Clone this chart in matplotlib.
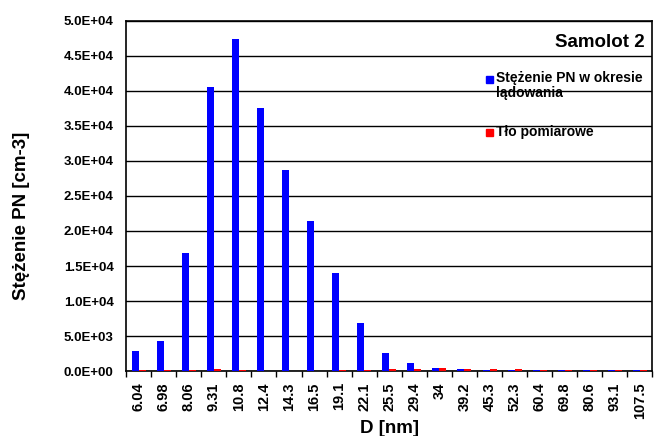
import numpy as np
import matplotlib
matplotlib.use("Agg")
import matplotlib.pyplot as plt
from matplotlib.patches import Rectangle

plt.rcParams["font.family"] = ["Liberation Sans", "DejaVu Sans"]
plt.rcParams["font.weight"] = "bold"

diameters = ["6.04", "6.98", "8.06", "9.31", "10.8", "12.4", "14.3", "16.5", "19.1", "22.1",
             "25.5", "29.4", "34", "39.2", "45.3", "52.3", "60.4", "69.8", "80.6", "93.1", "107.5"]
landing = [2900, 4300, 16900, 40600, 47400, 37600, 28700, 21400, 14000, 6900,
           2600, 1200, 450, 250, 200, 200, 200, 120, 120, 100, 100]
background = [120, 180, 120, 300, 180, 60, 60, 60, 120, 180,
              300, 350, 400, 300, 250, 250, 200, 130, 120, 100, 100]

series_names = ["Stężenie PN w okresie\nlądowania", "Tło pomiarowe"]
colors = ["#0000ff", "#ff0000"]

fig = plt.figure(figsize=(6.54, 4.36), dpi=100)
ax = fig.add_axes([0.1927, 0.149, 0.805, 0.803])

x = np.arange(len(diameters))
w = 0.28
ax.bar(x - w / 2, landing, w, color=colors[0], zorder=3)
ax.bar(x + w / 2, background, w, color=colors[1], zorder=3)

ax.set_xlim(-0.5, len(diameters) - 0.5)
ax.set_ylim(0, 50000)
yt = np.arange(0, 50001, 5000)
ax.set_yticks(yt)
ax.set_yticklabels([f"{v:.1E}" for v in yt], fontsize=9.5, fontweight="bold")
ax.yaxis.grid(True, color="black", linewidth=1, zorder=1)
ax.tick_params(axis="y", length=0, pad=9)

ax.set_xticks(x)
ax.set_xticklabels(diameters, rotation=90, fontsize=10.5, fontweight="bold")
ax.set_xticks(np.arange(-0.5, len(diameters)), minor=True)
ax.tick_params(axis="x", which="major", length=0, pad=8)
ax.tick_params(axis="x", which="minor", length=4, width=1)

for s in ax.spines.values():
    s.set_linewidth(1.2)
    s.set_color("black")

ax.set_xlabel("D [nm]", fontsize=13.5, fontweight="bold")
ax.xaxis.set_label_coords(0.5, -0.14)
ax.set_ylabel("Stężenie PN [cm-3]", fontsize=13.5, fontweight="bold")
ax.yaxis.set_label_coords(-0.182, 0.443)

ax.text(0.985, 0.937, "Samolot 2", transform=ax.transAxes, ha="right", va="center",
        fontsize=13.5, fontweight="bold")

# legend drawn by hand so the square sits on the first text line
sq_w, sq_h = 0.0133, 0.02
for name, col, yc in zip(series_names, colors, [0.834, 0.680]):
    ax.add_patch(Rectangle((0.683, yc - sq_h / 2), sq_w, sq_h, transform=ax.transAxes,
                           color=col, clip_on=False, zorder=4))
    ax.text(0.702, yc + 0.022, name, transform=ax.transAxes, ha="left", va="top",
            fontsize=10, fontweight="bold", linespacing=1.1)

fig.savefig("out.png", dpi=100)
